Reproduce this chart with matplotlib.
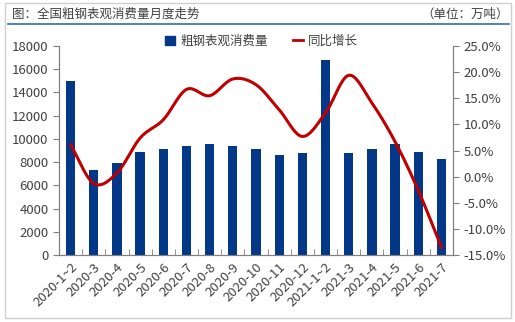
import numpy as np
import matplotlib
matplotlib.use('Agg')
import matplotlib.pyplot as plt
from matplotlib.patches import Rectangle
from matplotlib.lines import Line2D

plt.rcParams['font.family'] = ['Noto Sans CJK SC', 'DejaVu Sans']

months = ['2020-1~2', '2020-3', '2020-4', '2020-5', '2020-6', '2020-7', '2020-8',
          '2020-9', '2020-10', '2020-11', '2020-12', '2021-1~2', '2021-3',
          '2021-4', '2021-5', '2021-6', '2021-7']
consumption = [14950, 7350, 7950, 8900, 9150, 9400, 9580, 9400, 9120,
               8650, 8800, 16800, 8800, 9100, 9600, 8900, 8250]
yoy = [6.1, -1.3, 0.7, 7.4, 10.9, 16.7, 15.5, 18.7, 17.6,
       12.8, 7.7, 12.2, 19.4, 14.1, 6.7, -2.6, -13.5]

BAR = '#023887'
LINE = '#c00000'
GRID = '#808080'


def smooth(x, y, n=20):
    """Catmull-Rom style smoothing, like Excel's smoothed line."""
    x = np.asarray(x, float)
    y = np.asarray(y, float)
    px = np.concatenate([[2 * x[0] - x[1]], x, [2 * x[-1] - x[-2]]])
    py = np.concatenate([[2 * y[0] - y[1]], y, [2 * y[-1] - y[-2]]])
    xs, ys = [], []
    t = np.linspace(0, 1, n, endpoint=False)
    for i in range(1, len(px) - 2):
        p0, p1, p2, p3 = py[i - 1], py[i], py[i + 1], py[i + 2]
        q0, q1, q2, q3 = px[i - 1], px[i], px[i + 1], px[i + 2]
        for arr, a0, a1, a2, a3 in ((ys, p0, p1, p2, p3), (xs, q0, q1, q2, q3)):
            arr.extend(0.5 * (2 * a1 + (-a0 + a2) * t
                              + (2 * a0 - 5 * a1 + 4 * a2 - a3) * t ** 2
                              + (-a0 + 3 * a1 - 3 * a2 + a3) * t ** 3))
    xs.append(x[-1])
    ys.append(y[-1])
    return np.array(xs), np.array(ys)


fig = plt.figure(figsize=(5.15, 3.22), dpi=100)
fig.patch.set_facecolor('white')

# outer frame and title line
fig.add_artist(Rectangle((0.010, 0.012), 0.982, 0.978, transform=fig.transFigure,
                         fill=False, edgecolor='#d0d0d0', linewidth=1))
fig.add_artist(Line2D([0.016, 0.988], [0.925, 0.925], transform=fig.transFigure,
                      color='#2e6db4', linewidth=1.2))
fig.text(0.024, 0.955, '图：全国粗钢表观消费量月度走势', fontsize=9, color='#404040',
         va='center', ha='left')
fig.text(0.988, 0.955, '（单位：万吨）', fontsize=9, color='#404040',
         va='center', ha='right')

ax = fig.add_axes([0.1146, 0.208, 0.765, 0.649])
x = np.arange(len(months))
ax.bar(x, consumption, width=0.4, color=BAR, zorder=2)
ax.set_xlim(-0.5, len(months) - 0.5)
ax.set_ylim(0, 18000)
ax.set_yticks(range(0, 18001, 2000))
ax.tick_params(axis='y', labelsize=9.5, colors='#404040', length=4, color=GRID)

ax.set_xticks(x)
ax.set_xticklabels(months, rotation=45, ha='right', rotation_mode='anchor',
                   fontsize=9.5, color='#404040')
ax.tick_params(axis='x', length=0, pad=4)
ax.set_xticks(np.arange(-0.5, len(months), 1), minor=True)
ax.tick_params(axis='x', which='minor', direction='in', length=4, color=GRID)

ax.spines['top'].set_visible(False)
for s in ['left', 'right', 'bottom']:
    ax.spines[s].set_color(GRID)

ax2 = ax.twinx()
sx, sy = smooth(x, yoy)
ax2.plot(sx, sy, color=LINE, linewidth=2.2, zorder=3)
ax2.set_ylim(-15, 25)
ax2.set_yticks(range(-15, 26, 5))
ax2.set_yticklabels([f'{v:.1f}%' for v in range(-15, 26, 5)])
ax2.tick_params(axis='y', labelsize=9.5, colors='#404040', length=4, color=GRID)
ax2.spines['top'].set_visible(False)
for s in ['left', 'right', 'bottom']:
    ax2.spines[s].set_color(GRID)

handles = [Rectangle((0, 0), 1, 1, color=BAR),
           Line2D([], [], color=LINE, linewidth=2)]
fig.legend(handles, ['粗钢表观消费量', '同比增长'], loc='center',
           bbox_to_anchor=(0.508, 0.872), ncol=2, frameon=False, fontsize=9,
           handlelength=0.8, handleheight=0.8, columnspacing=2.0,
           handletextpad=0.4, labelcolor='#404040')

fig.savefig('out.png', dpi=100)
